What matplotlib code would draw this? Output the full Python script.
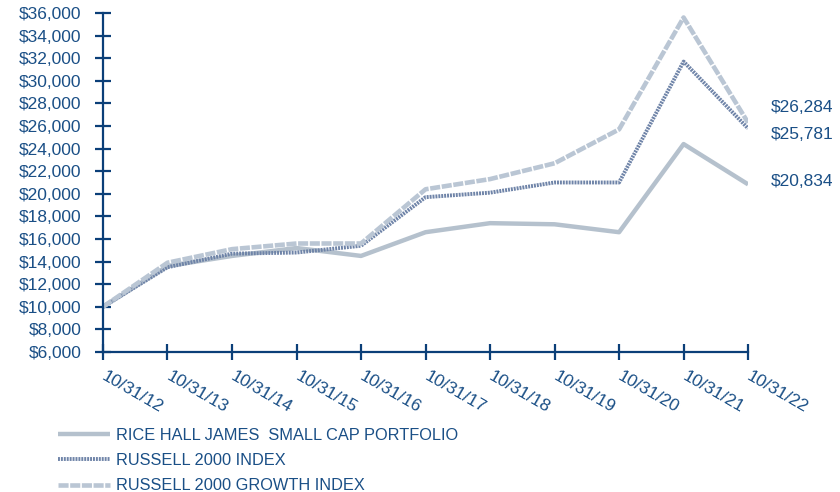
import matplotlib
matplotlib.use("Agg")
import matplotlib.pyplot as plt
from matplotlib.ticker import FuncFormatter

plt.rcParams['font.family'] = ['Liberation Sans', 'DejaVu Sans']

dates = ['10/31/12', '10/31/13', '10/31/14', '10/31/15', '10/31/16', '10/31/17',
         '10/31/18', '10/31/19', '10/31/20', '10/31/21', '10/31/22']
rice_hall = [10000, 13600, 14500, 15200, 14500, 16600, 17400, 17300, 16600, 24400, 20834]
russell_2000 = [10000, 13500, 14700, 14800, 15400, 19700, 20100, 21000, 21000, 31700, 25781]
russell_growth = [10000, 13900, 15100, 15600, 15600, 20400, 21300, 22700, 25700, 35600, 26284]

names = ['RICE HALL JAMES  SMALL CAP PORTFOLIO', 'RUSSELL 2000 INDEX', 'RUSSELL 2000 GROWTH INDEX']
y_ticks = list(range(6000, 36001, 2000))

navy = '#1a4f86'
axis_col = '#0b3f78'

fig = plt.figure(figsize=(8.4, 4.92), dpi=100)
ax = fig.add_axes([0.1226, 0.2846, 0.768, 0.689])

x = range(len(dates))
l1, = ax.plot(x, rice_hall, color='#b5c1cd', lw=3.2, solid_capstyle='butt', label=names[0])
l2, = ax.plot(x, russell_2000, color='#6f84a8', lw=2.8, linestyle=(0, (0.5, 0.25)), label=names[1])
l3, = ax.plot(x, russell_growth, color='#bac6d4', lw=3.3, linestyle=(0, (2.2, 0.35)), label=names[2])

# end labels
offsets = [(16, 2), (16, -4), (16, 11)]
for series, off in zip([rice_hall, russell_2000, russell_growth], offsets):
    ax.annotate('${:,}'.format(series[-1]), xy=(len(dates) - 1, series[-1]),
                xytext=off, textcoords='offset points', va='center', ha='left',
                color=navy, fontsize=12.5, annotation_clip=False)

ax.set_xlim(0, len(dates) - 1)
ax.set_ylim(6000, 36000)
ax.set_yticks(y_ticks)
ax.yaxis.set_major_formatter(FuncFormatter(lambda v, p: '${:,.0f}'.format(v)))
ax.set_xticks(list(x))
ax.set_xticklabels(dates, rotation=-30, ha='left', va='center', rotation_mode='anchor')

for s in ['top', 'right']:
    ax.spines[s].set_visible(False)
for s in ['left', 'bottom']:
    ax.spines[s].set_color(axis_col)
    ax.spines[s].set_linewidth(1.6)
ax.tick_params(axis='both', direction='inout', length=11, width=1.6, color=axis_col,
               labelcolor=navy, labelsize=12.5)
ax.tick_params(axis='y', pad=10)
ax.tick_params(axis='x', pad=11)

fig.legend(handles=[l1, l2, l3], loc='upper left', bbox_to_anchor=(0.069, 0.13),
           frameon=False, fontsize=11.8, handlelength=3.2, handletextpad=0.35,
           labelspacing=0.62, labelcolor=navy, borderpad=0, borderaxespad=0)

fig.savefig('out.png', dpi=100)
